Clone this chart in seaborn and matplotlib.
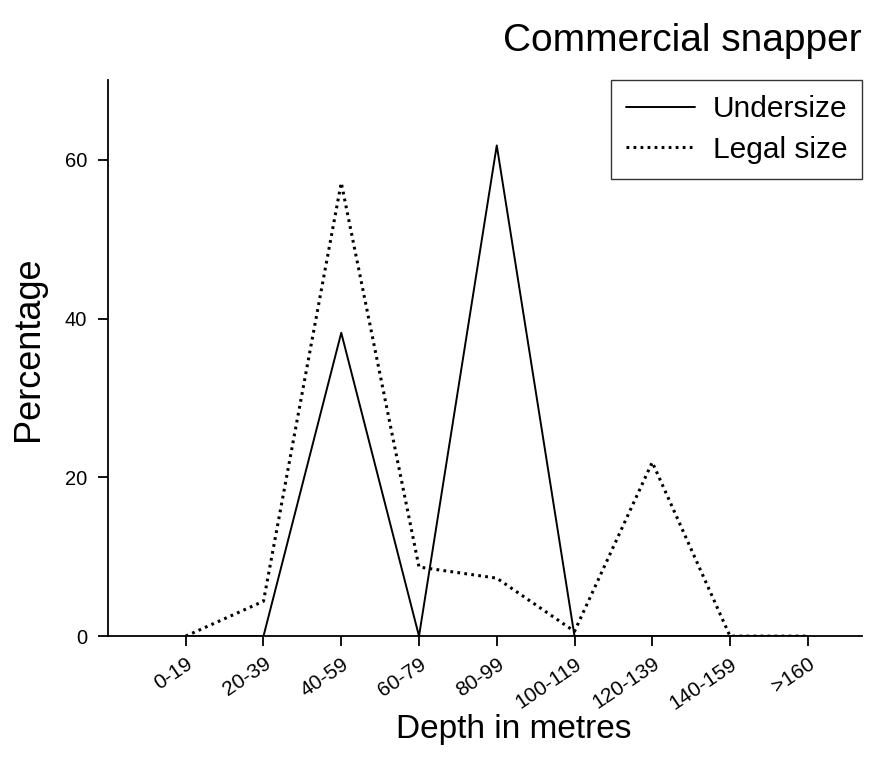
import pandas as pd
import seaborn as sns
import matplotlib.pyplot as plt

###Depth classes and percentages
depth_bins = ["0-19", "20-39", "40-59", "60-79", "80-99",
              "100-119", "120-139", "140-159", ">160"]
undersize = [0, 0, 38.2, 0, 61.8, 0, 0, 0, 0]
legal_size = [0, 4.4, 57.1, 8.7, 7.3, 0.6, 21.9, 0, 0]

df_under = pd.DataFrame({"pos": range(len(depth_bins)), "Percentage": undersize})
df_legal = pd.DataFrame({"pos": range(len(depth_bins)), "Percentage": legal_size})

sns.set_style("ticks")
plt.rcParams['font.family'] = ['Liberation Sans', 'DejaVu Sans']
plt.rcParams['text.color'] = 'black'
plt.rcParams['axes.labelcolor'] = 'black'
plt.rcParams['xtick.color'] = 'black'
plt.rcParams['ytick.color'] = 'black'

fig, ax = plt.subplots(figsize=(8.78, 7.72), dpi=100)
fig.subplots_adjust(left=0.123, right=0.982, top=0.896, bottom=0.176)

sns.lineplot(data=df_under, x="pos", y="Percentage", color="black",
             linewidth=1.4, label="Undersize", ax=ax)
sns.lineplot(data=df_legal, x="pos", y="Percentage", color="black",
             linewidth=2.2, linestyle=(0, (0.9, 1.4)), label="Legal size", ax=ax)

ax.set_xticks(range(len(depth_bins)))
ax.set_xticklabels(depth_bins, rotation=34, ha="right", rotation_mode="anchor", fontsize=15)
ax.set_yticks([0, 20, 40, 60])
ax.tick_params(axis="y", labelsize=14.5, pad=8)
ax.tick_params(axis="x", pad=6)
ax.tick_params(length=7, width=1.3, color="black")
ax.set_xlim(-1, 8.7)
ax.set_ylim(0, 70)

for side in ["top", "right"]:
    ax.spines[side].set_visible(False)
for side in ["left", "bottom"]:
    ax.spines[side].set_linewidth(1.3)
    ax.spines[side].set_color("black")

ax.set_xlabel("Depth in metres", fontsize=24)
ax.xaxis.set_label_coords(0.538, -0.14)
ax.set_ylabel("Percentage", fontsize=26)
ax.yaxis.set_label_coords(-0.082, 0.517)
ax.set_title("Commercial snapper", fontsize=28, loc="right", pad=21)

leg = ax.legend(loc="upper right", fontsize=21.5, frameon=True, fancybox=False,
                edgecolor="black", handlelength=2.3, handletextpad=0.6,
                borderaxespad=0, borderpad=0.5, labelspacing=0.42)
leg.get_frame().set_linewidth(1.0)

plt.savefig("out.png", dpi=100)
